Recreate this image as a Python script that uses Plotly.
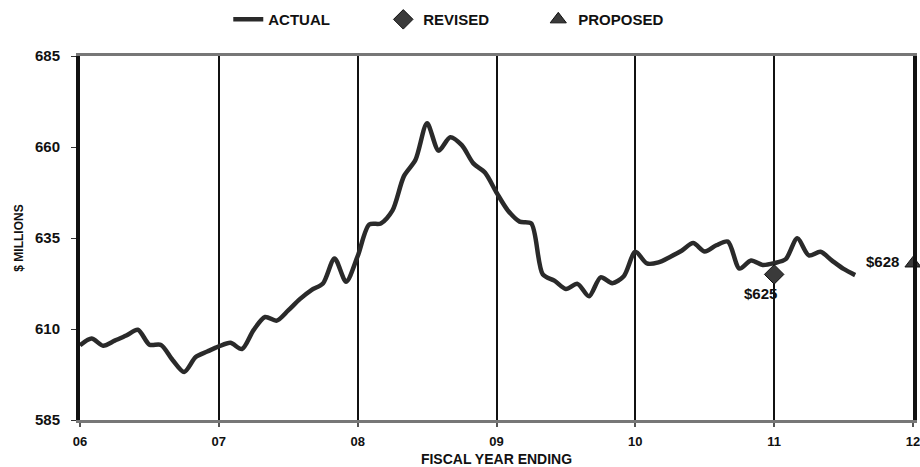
import plotly.graph_objects as go

# Monthly actual spending, $ millions, from start of FY06 through mid FY11
actual = [
    605.5, 607.4, 605.4, 606.8, 608.2, 609.8, 605.7, 605.6, 601.5, 598.2, 602.3, 603.8,
    605.2, 606.2, 604.5, 609.7, 613.3, 612.3, 615.1, 618.2, 620.7, 622.5, 629.4, 623.0,
    630.0, 638.7, 639.0, 642.5, 652.0, 656.5, 666.5, 659.0, 662.7, 660.5, 655.5, 653.0,
    647.5, 642.5, 639.5, 639.0, 625.0, 623.3, 621.0, 622.4, 619.0, 624.2, 622.6, 624.5,
    631.2, 628.0, 628.3, 629.8, 631.5, 633.6, 631.3, 633.0, 634.0, 626.6, 628.8, 627.6,
    628.1, 629.2, 634.9, 630.2, 631.2, 628.8, 626.5, 624.8,
]
start_year = 6
actual_x = [start_year + i / 12 for i in range(len(actual))]

revised_x = [11]
revised_y = [625]
proposed_x = [12]
proposed_y = [628]

year_ticks = [6, 7, 8, 9, 10, 11, 12]
year_labels = ["06", "07", "08", "09", "10", "11", "12"]
y_ticks = [585, 610, 635, 660, 685]

FONT = "Liberation Sans, Arial, sans-serif"

fig = go.Figure()
fig.add_trace(go.Scatter(
    x=actual_x, y=actual, mode="lines", name="<b>ACTUAL</b>",
    line=dict(color="#2a2a2a", width=4.5, shape="spline", smoothing=0.8),
))
fig.add_trace(go.Scatter(
    x=revised_x, y=revised_y, mode="markers", name="<b>REVISED</b>",
    marker=dict(symbol="diamond", size=15, color="#3a3a3a",
                line=dict(color="#111", width=1)),
    cliponaxis=False,
))
fig.add_trace(go.Scatter(
    x=proposed_x, y=proposed_y, mode="markers", name="<b>PROPOSED</b>",
    marker=dict(symbol="triangle-up", size=14, color="#3a3a3a",
                line=dict(color="#111", width=1)),
    cliponaxis=False,
))

fig.add_annotation(x=revised_x[0], y=revised_y[0], text=f"<b>${revised_y[0]}</b>",
                   showarrow=False, xanchor="right", yanchor="top",
                   xshift=5, yshift=-9, font=dict(family=FONT, size=15, color="#111"))
fig.add_annotation(x=proposed_x[0], y=proposed_y[0], text=f"<b>${proposed_y[0]}</b>",
                   showarrow=False, xanchor="right", yanchor="middle",
                   xshift=-12, yshift=2, font=dict(family=FONT, size=15, color="#111"))

fig.update_layout(
    width=920, height=467,
    margin=dict(l=80, r=7, t=56, b=47, autoexpand=False),
    paper_bgcolor="white", plot_bgcolor="white",
    font=dict(family=FONT, color="#111"),
    showlegend=True,
    legend=dict(orientation="h", x=0.178, xanchor="left", y=1.10, yanchor="middle",
                font=dict(family=FONT, size=15, color="#111"),
                entrywidth=110, entrywidthmode="pixels"),
    xaxis=dict(
        range=[6, 12], tickvals=year_ticks, ticktext=[f"<b>{t}</b>" for t in year_labels],
        showgrid=True, gridcolor="#111", gridwidth=2,
        showline=True, linecolor="#777", linewidth=3, mirror=True,
        ticks="outside", ticklen=4, tickcolor="#555", tickwidth=2,
        ticklabelstandoff=3, automargin=False, ticklabeloverflow="allow",
        tickfont=dict(family=FONT, size=13, color="#111"),
        title=dict(text="<b>FISCAL YEAR ENDING</b>", standoff=12,
                   font=dict(family=FONT, size=14, color="#111")),
        zeroline=False,
    ),
    yaxis=dict(
        range=[585, 685], tickvals=y_ticks, ticktext=[f"<b>{t}</b>" for t in y_ticks],
        showgrid=False, zeroline=False,
        showline=True, linecolor="#111", linewidth=4, mirror=True,
        ticks="outside", ticklen=5, tickcolor="#333", tickwidth=1,
        ticklabelstandoff=8, automargin=False,
        tickfont=dict(family=FONT, size=15, color="#111"),
        title=dict(text="<b>$ MILLIONS</b>", standoff=10,
                   font=dict(family=FONT, size=12, color="#111")),
    ),
)

fig.write_html("out.html")
